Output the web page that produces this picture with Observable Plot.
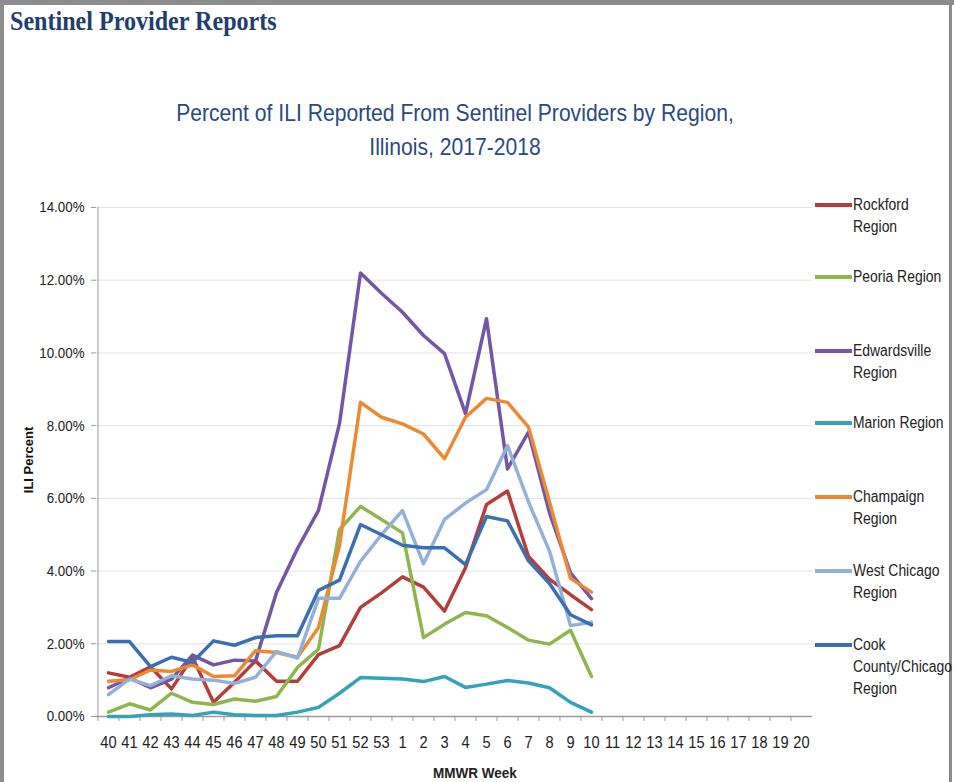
<!DOCTYPE html>
<html><head><meta charset="utf-8">
<script src="https://cdn.jsdelivr.net/npm/d3@7"></script>
<script src="https://cdn.jsdelivr.net/npm/@observablehq/plot@0.6"></script>
<style>
body{margin:0;background:#fff;}
#page{position:relative;width:954px;height:782px;overflow:hidden;background:#fff;font-family:"Liberation Sans",Arial,sans-serif;}
.bar{position:absolute;background:#8c8c8c;}
#head{position:absolute;left:10px;top:5px;font-family:"Liberation Serif",serif;font-weight:bold;font-size:28px;color:#213e6f;transform:scaleX(0.86);transform-origin:0 0;white-space:nowrap;}
#title{position:absolute;left:455px;top:96px;transform:translateX(-50%) scaleX(0.88);text-align:center;font-size:24px;line-height:34px;color:#2a4a7c;white-space:nowrap;}
#chart{position:absolute;left:0;top:170px;}
#ytitle{position:absolute;left:28px;top:460px;transform:translate(-50%,-50%) rotate(-90deg);font-weight:bold;font-size:13px;color:#111;white-space:nowrap;}
#xtitle{position:absolute;left:475px;top:772px;transform:translate(-50%,-50%) scaleX(0.9);font-weight:bold;font-size:15px;color:#222;white-space:nowrap;}
.lg{position:absolute;left:815px;font-size:16px;line-height:22px;color:#222;}
.lg .sw{position:absolute;left:0;top:9px;width:37px;height:4px;}
.lg .tx{position:absolute;left:38px;top:0;white-space:nowrap;transform:scaleX(0.87);transform-origin:0 0;}
</style></head>
<body><div id="page">
<div class="bar" style="left:0;top:0;width:954px;height:5px"></div>
<div class="bar" style="left:0;top:0;width:4px;height:782px"></div>
<div class="bar" style="left:949px;top:0;width:3px;height:782px"></div>
<div id="head">Sentinel Provider Reports</div>
<div id="title">Percent of ILI Reported From Sentinel Providers by Region,<br>Illinois, 2017-2018</div>
<div id="chart"></div>
<div id="ytitle">ILI Percent</div>
<div id="xtitle">MMWR Week</div>
<div id="legend"></div>
</div>
<script>
const weeks = ["40","41","42","43","44","45","46","47","48","49","50","51","52","53","1","2","3","4","5","6","7","8","9","10","11","12","13","14","15","16","17","18","19","20"];
const regions = ["Rockford Region","Peoria Region","Edwardsville Region","Marion Region","Champaign Region","West Chicago Region","Cook County/Chicago Region"];
const legendLabels = [["Rockford","Region"],["Peoria Region"],["Edwardsville","Region"],["Marion Region"],["Champaign","Region"],["West Chicago","Region"],["Cook","County/Chicago","Region"]];
const colors = ["#b53d3b","#8fb54f","#7456a6","#34a2b9","#ec8a32","#93b1d8","#3a6fb2"];
const yTicks = [0,2,4,6,8,10,12,14];

const rockford     = [1.2,1.08,1.37,0.76,1.63,0.39,0.94,1.53,0.97,0.97,1.7,1.95,3.0,3.4,3.84,3.56,2.9,4.09,5.83,6.2,4.4,3.78,3.35,2.94];
const peoria       = [0.12,0.35,0.18,0.64,0.39,0.33,0.48,0.42,0.55,1.35,1.85,5.14,5.78,5.42,5.05,2.17,2.54,2.86,2.77,2.45,2.1,1.99,2.37,1.1];
const edwardsville = [0.79,1.06,0.79,1.03,1.69,1.42,1.55,1.53,3.41,4.62,5.67,8.06,12.2,11.64,11.12,10.48,9.98,8.33,10.94,6.81,7.82,5.6,3.95,3.24];
const marion       = [0.0,0.0,0.05,0.07,0.03,0.12,0.05,0.03,0.03,0.12,0.25,0.64,1.07,1.05,1.03,0.96,1.1,0.8,0.89,0.99,0.92,0.79,0.39,0.12];
const champaign    = [0.97,1.01,1.28,1.24,1.42,1.1,1.12,1.81,1.76,1.63,2.45,4.7,8.64,8.23,8.05,7.77,7.09,8.23,8.75,8.64,7.96,5.9,3.8,3.42];
const westChicago  = [0.6,1.03,0.85,1.12,1.03,1.0,0.91,1.08,1.79,1.61,3.25,3.25,4.27,5.0,5.66,4.2,5.42,5.87,6.24,7.45,5.9,4.55,2.5,2.59];
const cookCounty   = [2.06,2.06,1.37,1.63,1.49,2.08,1.96,2.17,2.22,2.22,3.47,3.75,5.28,5.0,4.71,4.64,4.64,4.18,5.5,5.38,4.28,3.66,2.8,2.52];

const series = [rockford,peoria,edwardsville,marion,champaign,westChicago,cookCounty];
const rows = [];
series.forEach((vals, s) => vals.forEach((v, i) => rows.push({week: weeks[i], region: regions[s], value: v})));

const W = 954, H = 612, ML = 96, MR = 142, MT = 37, MB = 66;
const step = (W - ML - MR) / weeks.length;
const axisColor = "#9a9a9a";

const chart = Plot.plot({
  width: W, height: H,
  marginLeft: ML, marginRight: MR, marginTop: MT, marginBottom: MB,
  style: {fontFamily: '"Liberation Sans",Arial,sans-serif', color: "#222", background: "transparent"},
  x: {type: "point", domain: weeks, padding: 0.5, label: null},
  y: {domain: [0, 14], label: null},
  color: {domain: regions, range: colors},
  marks: [
    Plot.gridY(yTicks, {stroke: "#e3e3e3", strokeOpacity: 1}),
    Plot.axisY(yTicks, {tickFormat: d => d.toFixed(2) + "%", tickSize: 5, tickPadding: 7, fontSize: 15.5, stroke: axisColor, label: null}),
    Plot.ruleX([weeks[0]], {dx: -step / 2, y1: 0, y2: 14, stroke: axisColor}),
    Plot.ruleY([0], {stroke: axisColor, strokeWidth: 1.5}),
    Plot.axisX({tickSize: 5, tickFormat: () => "", dx: -step / 2, stroke: axisColor, label: null}),
    Plot.axisX({tickSize: 0, tickPadding: 19, fontSize: 17, label: null}),
    Plot.line(rows, {x: "week", y: "value", z: "region", stroke: "region", strokeWidth: 3.5, strokeLinejoin: "round"})
  ]
});
document.getElementById("chart").appendChild(chart);

// condense axis tick labels horizontally to match the narrow typeface of the reference
chart.querySelectorAll('g[aria-label="x-axis tick label"] text, g[aria-label="y-axis tick label"] text').forEach(t => {
  const len = t.getComputedTextLength();
  if (len > 0) {
    t.setAttribute("textLength", len * 0.86);
    t.setAttribute("lengthAdjust", "spacingAndGlyphs");
  }
});

const lgY = [205, 277, 351, 423, 497, 571, 645];
const lg = document.getElementById("legend");
legendLabels.forEach((lines, i) => {
  const d = document.createElement("div");
  d.className = "lg";
  d.style.top = (lgY[i] - 11) + "px";
  d.innerHTML = `<div class="sw" style="background:${colors[i]}"></div><div class="tx">${lines.join("<br>")}</div>`;
  lg.appendChild(d);
});
</script>
</body></html>
